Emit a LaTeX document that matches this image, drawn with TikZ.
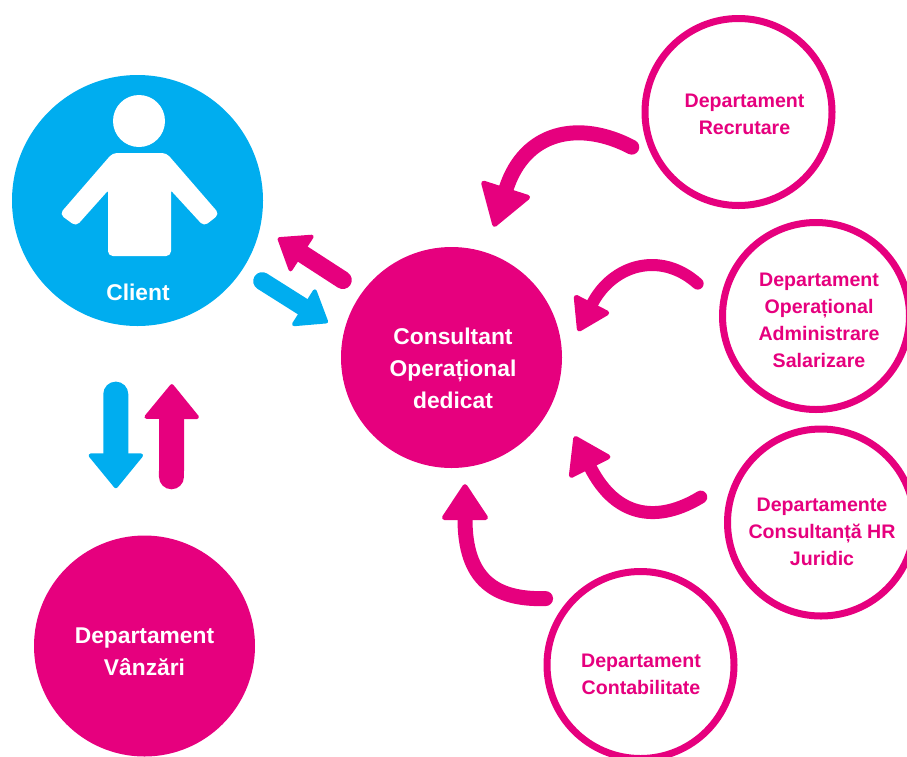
\documentclass[tikz,border=0pt]{standalone}
\usepackage{fontspec}
\setmainfont{Liberation Sans}
\usetikzlibrary{arrows.meta}
\definecolor{pinkc}{HTML}{E6007E}
\definecolor{bluec}{HTML}{00ADEF}
\tikzset{
    fullcircle/.style={circle, inner sep=0pt, outer sep=0pt},
    ringcircle/.style={circle, draw=pinkc, line width=7pt, fill=white, minimum size=187pt, inner sep=0pt, outer sep=0pt},
    ringtext/.style={text=pinkc, align=center, font=\fontsize{19.6}{27}\selectfont\bfseries},
    fulltext/.style={text=white, align=center, font=\fontsize{22.8}{32}\selectfont\bfseries},
    bigcurve/.style={draw=pinkc, line width=15pt, line cap=round, -{Triangle[length=43pt,width=54pt,round,line width=5pt]}},
    midcurve/.style={draw=pinkc, line width=15pt, line cap=round, -{Triangle[length=38pt,width=49pt,round,line width=5pt]}},
    smallcurve/.style={draw=pinkc, line width=12pt, line cap=round, -{Triangle[length=34pt,width=42pt,round,line width=5pt]}},
    flatarrow/.style={line width=18pt, line cap=round, -{Triangle[length=31pt,width=46pt,round,line width=4pt]}},
    tallarrow/.style={line width=25pt, line cap=round, -{Triangle[length=36pt,width=58pt,round,line width=4pt]}}
}
\begin{document}
\begin{tikzpicture}[x=1pt, y=-1pt]
        \useasboundingbox (0,0) rectangle (907,756);

        \node[fullcircle, fill=bluec, minimum size=251pt] (client) at (137.5,200.5) {};
        \node[fullcircle, fill=pinkc, minimum size=221pt] (cons) at (451.5,357.5) {};
        \node[fullcircle, fill=pinkc, minimum size=221pt] (sales) at (144.5,646) {};

        \node[ringcircle] (recr) at (738.5,112) {};
        \node[ringcircle] (oper) at (816,316) {};
        \node[ringcircle] (jur) at (821,522.5) {};
        \node[ringcircle] (cont) at (640.5,665) {};

        \fill[white] (139,121) circle (26);
        \fill[white, draw=white, line width=2pt, rounded corners=4pt] (113,154) -- (166,154) -- (218,214) -- (204,225) -- (170,188) -- (170,255) -- (109,255) -- (109,188) -- (76,225) -- (61,214) -- cycle;

        \node[fulltext] (clientlabel) at (138,292) {Client};
        \node[fulltext] (conslabel) at (453,368) {Consultant\\Operațional\\dedicat};
        \node[fulltext] (saleslabel) at (144.5,652) {Departament\\Vânzări};

        \node[ringtext] (recrlabel) at (744.5,114) {Departament\\Recrutare};
        \node[ringtext] (operlabel) at (819,320) {Departament\\Operațional\\Administrare\\Salarizare};
        \node[ringtext] (jurlabel) at (822,532) {Departamente\\Consultanță HR\\Juridic};
        \node[ringtext] (contlabel) at (641,674) {Departament\\Contabilitate};

        \draw[flatarrow, draw=pinkc, shorten <=23pt, shorten >=21pt] (cons.144) -- (client.-12);
        \draw[flatarrow, draw=bluec, shorten <=23pt, shorten >=19pt] (client.-33.7) -- (cons.167.5);
        \draw[tallarrow, draw=bluec, shorten <=70pt, shorten >=51pt] (client.260) -- (sales.105);
        \draw[tallarrow, draw=pinkc, shorten <=62pt, shorten >=63pt] (sales.76) -- (client.-74);

        \draw[bigcurve, shorten <=31pt, shorten >=27pt] (recr.212.5) .. controls (580,120) and (525,130) .. (cons.72.7);
        \draw[smallcurve, shorten <=34pt, shorten >=36pt] (oper.174.7) .. controls (660,250) and (612,265) .. (cons.-3.4);
        \draw[midcurve, line width=13pt, shorten <=49pt, shorten >=44pt] (jur.147) .. controls (660,522) and (617,520) .. (cons.-21.5);
        \draw[midcurve, shorten <=30pt, shorten >=17pt] (cont.134.5) .. controls (495,600) and (465,580) .. (cons.-83);
    \end{tikzpicture}
\end{document}
